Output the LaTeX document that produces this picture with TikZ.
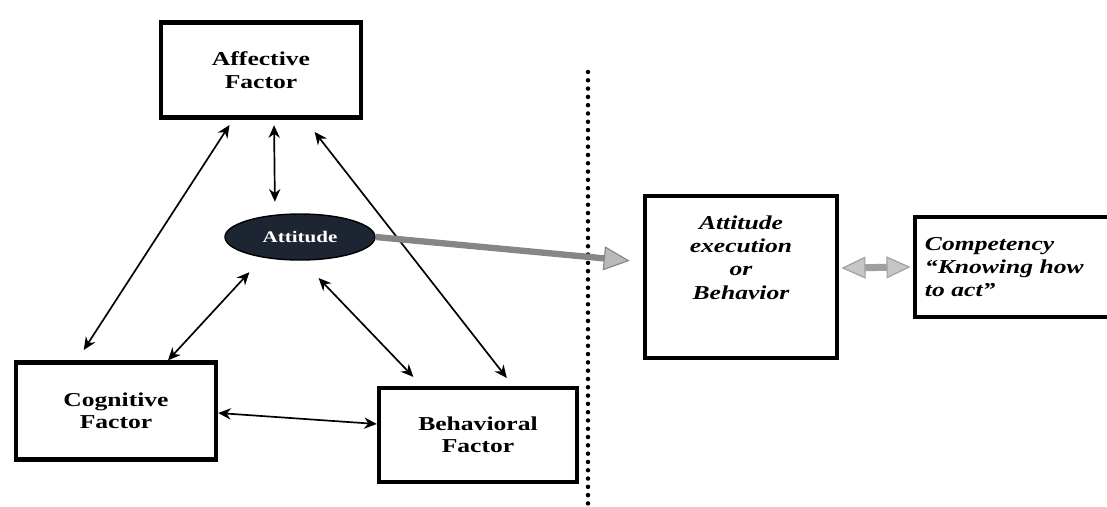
\documentclass[tikz,border=0pt]{standalone}
\usepackage{fontspec}
\setmainfont{Liberation Serif}[FakeStretch=1.3]
\usetikzlibrary{arrows.meta,shapes.geometric}

\definecolor{attfill}{HTML}{1E2532}

\tikzset{
  factor/.style={draw, line width=3pt, minimum width=5cm, minimum height=2.4cm,
    align=center, font=\bfseries\fontsize{14}{16}\selectfont},
  outcome/.style={factor, font=\bfseries\itshape\fontsize{14}{16.5}\selectfont},
  attnode/.style={ellipse, draw=black, line width=1pt, fill=attfill, minimum width=3.75cm, minimum height=1.15cm,
    inner sep=0pt, text=white, font=\bfseries\fontsize{11.5}{13}\selectfont},
  link/.style={{Stealth[length=9pt,width=8pt]}-{Stealth[length=9pt,width=8pt]}, line width=1.2pt},
  flow/.style={-{Triangle[length=0.65cm,width=0.6cm,line width=0.8pt,fill=gray!55]},
    line width=4.5pt, draw=gray!95},
  twoway/.style={{Triangle[length=0.6cm,width=0.55cm,line width=0.8pt,fill=gray!45]}-{Triangle[length=0.6cm,width=0.55cm,line width=0.8pt,fill=gray!45]},
    line width=5pt, draw=gray!75},
}

\begin{document}
\begin{tikzpicture}[x=0.025cm,y=-0.025cm]
  \useasboundingbox (0,0) rectangle (1107,507);

  % the three factors and the attitude
  \node[factor, minimum height=2.375cm] (aff) at (261,70) {Affective\\Factor};
  \node[factor, minimum height=2.425cm] (cog) at (116,411) {Cognitive\\Factor};
  \node[factor, minimum width=4.95cm, minimum height=2.35cm] (beh) at (478,435) {Behavioral\\Factor};
  \node[attnode] (att) at (300,237) {Attitude};

  % right hand side
  \node[outcome, minimum width=4.8cm, minimum height=4.05cm] (exec) at (741,277)
    {Attitude\\execution\\or\\Behavior\\[0.4cm]};
  \node[outcome, text width=4.5cm, inner xsep=0.25cm, align=left, minimum height=2.5cm] (comp) at (1015,267)
    {Competency\\“Knowing how\\to act”};

  \draw[line width=3.2pt, line cap=round, dash pattern=on 0pt off 5.9pt] (588,72) -- (588,507);

  % links between the factors
  \draw[link, shorten <=0.16cm, shorten >=0.31cm] ([xshift=-0.7cm]aff.south) -- ([xshift=-0.975cm]cog.north);
  \draw[link, shorten <=0.14cm, shorten >=0.29cm] ([xshift=0.325cm]aff.south) -- ([xshift=-0.625cm]att.north);
  \draw[link, shorten <=0.39cm, shorten >=0.25cm] ([xshift=1.1cm]aff.south) -- ([xshift=0.875cm]beh.north);
  \draw[link, shorten >=0.39cm] ([xshift=1.3cm]cog.north) -- ([xshift=-1cm]att.south);
  \draw[link, shorten <=0.6cm, shorten >=0.31cm] ([xshift=0.05cm]att.south) -- ([xshift=-1.4cm]beh.north);
  \draw[link] ([yshift=-0.05cm]cog.east) -- ([yshift=0.275cm]beh.west);

  \draw[flow, shorten >=0.33cm] (att.east) -- ([yshift=0.375cm]exec.west);
  \draw[twoway, shorten <=0.06cm, shorten >=0.06cm] ([yshift=0.225cm]exec.east) -- (comp.west);
\end{tikzpicture}
\end{document}
